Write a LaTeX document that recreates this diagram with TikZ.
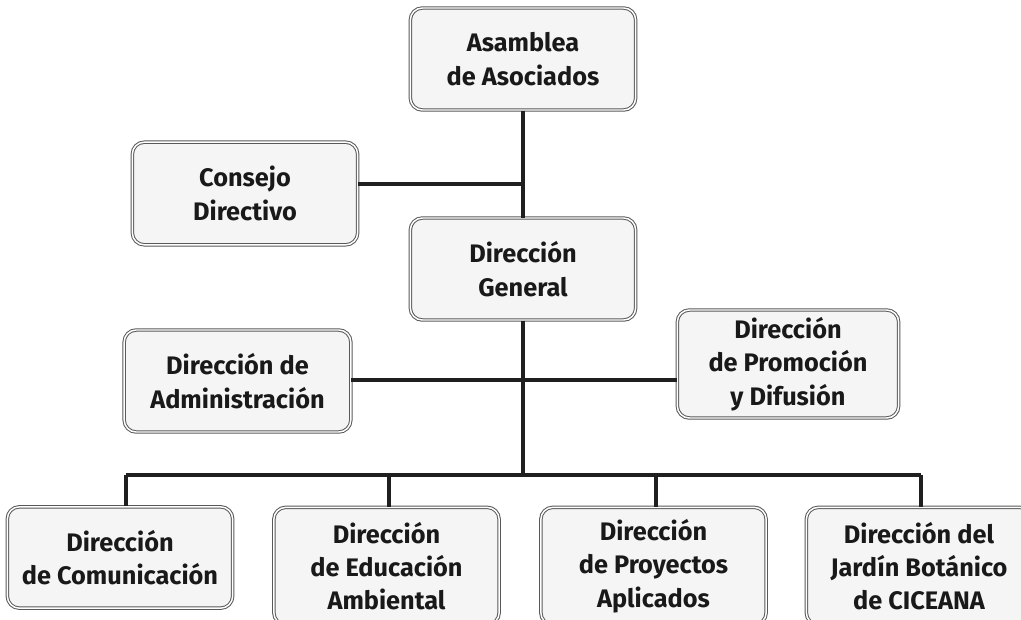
\documentclass[tikz,border=0pt]{standalone}
\usepackage{fontspec}
\setmainfont{Fira Sans}
\begin{document}
\begin{tikzpicture}[x=0.75pt,y=-0.75pt,
  orgbox/.style={draw=black!65, line width=0.75pt, double=white, double distance=1.1pt,
    rounded corners=9pt, fill=black!4, align=center, inner sep=0pt,
    minimum width=169pt, font=\fontsize{19}{25}\selectfont\bfseries, text=black!90},
  link/.style={line width=3.2pt, draw=black!88}]
\useasboundingbox (0,0) rectangle (1021,619);
\node[orgbox, minimum height=76.5pt] (A) at (523,59) {Asamblea\\de Asociados};
\node[orgbox, minimum height=77pt] (C) at (245,193.5) {Consejo\\Directivo};
\node[orgbox, minimum height=76.5pt] (G) at (523,269) {Dirección\\General};
\node[orgbox, minimum height=76.5pt, minimum width=170pt] (Adm) at (237.5,381) {Dirección de\\Administración};
\node[orgbox, minimum height=81pt, minimum width=166pt] (Pro) at (788,364) {Dirección\\de Promoción\\y Difusión};
\node[orgbox, minimum height=76pt] (Com) at (120,557.5) {Dirección\\de Comunicación};
\node[orgbox, minimum height=88pt] (Edu) at (386.5,566) {Dirección\\de Educación\\Ambiental};
\node[orgbox, minimum height=88pt] (Proy) at (653.5,566) {Dirección\\de Proyectos\\Aplicados};
\node[orgbox, minimum height=88pt] (Jar) at (919,566) {Dirección del\\Jardín Botánico\\de CICEANA};
\coordinate (jc) at (523,184);
\coordinate (jm) at (523,380);
\coordinate (bus) at (523,475);
\draw[link] (A.south) -- (G.north);
\draw[link] (C.east |- jc) -- (jc);
\draw[link] (G.south) -- (bus);
\draw[link] (Adm.east |- jm) -- (Pro.west |- jm);
\draw[link] ([xshift=4.5pt]Com.north |- bus) -- ([xshift=1.5pt]Jar.north |- bus);
\draw[link] ([xshift=4.5pt]Com.north |- bus) -- ([xshift=4.5pt]Com.north);
\draw[link] ([xshift=2pt]Edu.north |- bus) -- ([xshift=2pt]Edu.north);
\draw[link] ([xshift=2pt]Proy.north |- bus) -- ([xshift=2pt]Proy.north);
\draw[link] ([xshift=1.5pt]Jar.north |- bus) -- ([xshift=1.5pt]Jar.north);
\end{tikzpicture}
\end{document}
